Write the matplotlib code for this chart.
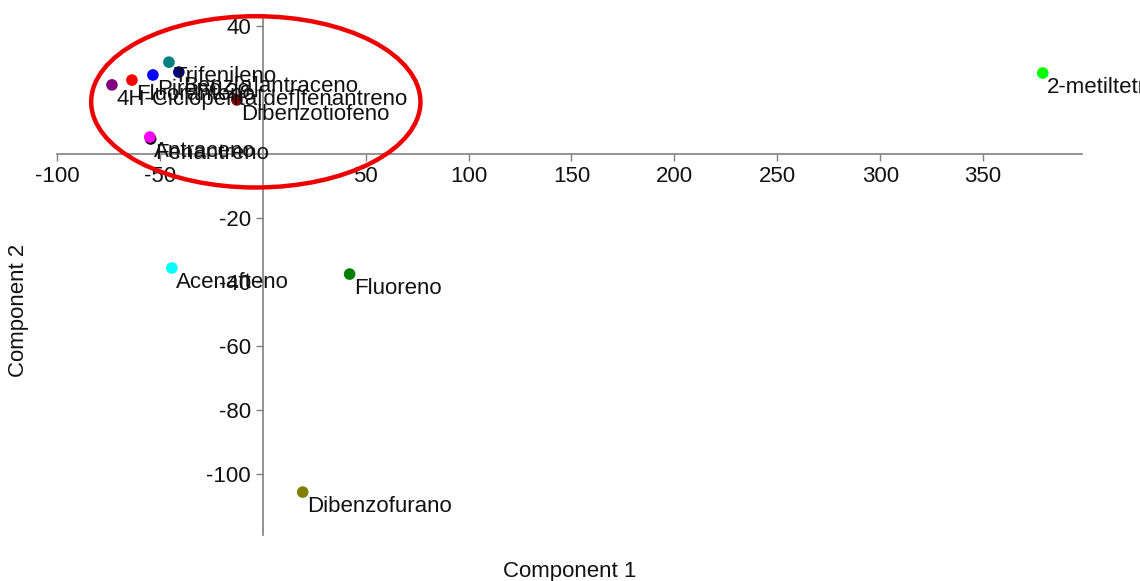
#!/usr/bin/python3
# -*- coding: utf-8 -*-

# PCA scores: component 1 vs component 2, one labelled point per compound

import matplotlib
matplotlib.use('Agg')
import matplotlib.pyplot as plt
from matplotlib.patches import Ellipse

plt.rcParams['font.family'] = ['Liberation Sans', 'DejaVu Sans']
plt.rcParams['axes.unicode_minus'] = False

names = ['Trifenileno', 'Benz[a]antraceno', 'Pireno', 'Fluoranteno',
         '4H-Ciclopenta[def]fenantreno', 'Dibenzotiofeno', 'Fenantreno',
         'Antraceno', '2-metiltetradecano', 'Acenafteno', 'Fluoreno',
         'Dibenzofurano']
comp1 = [-45.6, -40.8, -53.4, -63.6, -73.3, -12.6, -54.5, -54.9, 379.0,
         -44.2, 42.2, 19.4]
comp2 = [28.7, 25.6, 24.7, 23.1, 21.6, 16.9, 4.7, 5.3, 25.3, -35.6, -37.5,
         -105.6]
colors = ['#008080', '#000080', '#0000ff', '#ff0000', '#800080', '#800000',
          '#000000', '#ff00ff', '#00ff00', '#00ffff', '#008000', '#808000']

x_ticks = [-100, -50, 50, 100, 150, 200, 250, 300, 350]
y_ticks = [-100, -80, -60, -40, -20, 20, 40]


def main():
    fig = plt.figure(figsize=(11.4, 5.81), dpi=100)
    ax = fig.add_axes([0.05, 0.0792, 0.899, 0.8915])

    for x, y, name, c in zip(comp1, comp2, names, colors):
        ax.scatter(x, y, s=70, color=c, edgecolors='none', zorder=3)
        ax.annotate(name, (x, y), xytext=(3, -3), textcoords='offset points',
                    ha='left', va='top', fontsize=16, color='#111111',
                    annotation_clip=False, zorder=4)

    # highlight ellipse round the top-left cluster
    ax.add_patch(Ellipse((-3.4, 16.3), 160, 53.5, fill=False,
                         edgecolor='#ee0000', linewidth=3.2, zorder=5,
                         clip_on=False))

    ax.set_xlim(-100, 398)
    ax.set_ylim(-119, 42.8)

    # axes cross at the origin
    ax.spines['left'].set_position('zero')
    ax.spines['bottom'].set_position('zero')
    ax.spines['top'].set_visible(False)
    ax.spines['right'].set_visible(False)
    for s in ('left', 'bottom'):
        ax.spines[s].set_color('#808080')
        ax.spines[s].set_linewidth(1.2)

    ax.set_xticks(x_ticks)
    ax.set_yticks(y_ticks)
    ax.tick_params(axis='both', direction='out', length=5, width=1,
                   color='#808080', labelsize=16, labelcolor='#111111')

    fig.text(0.5, 0.017, 'Component 1', ha='center', va='center',
             fontsize=16, color='#111111')
    fig.text(0.016, 0.465, 'Component 2', ha='center', va='center',
             rotation=90, fontsize=16, color='#111111')

    fig.savefig('out.png', dpi=100, facecolor='white')


if __name__ == '__main__':
    main()
